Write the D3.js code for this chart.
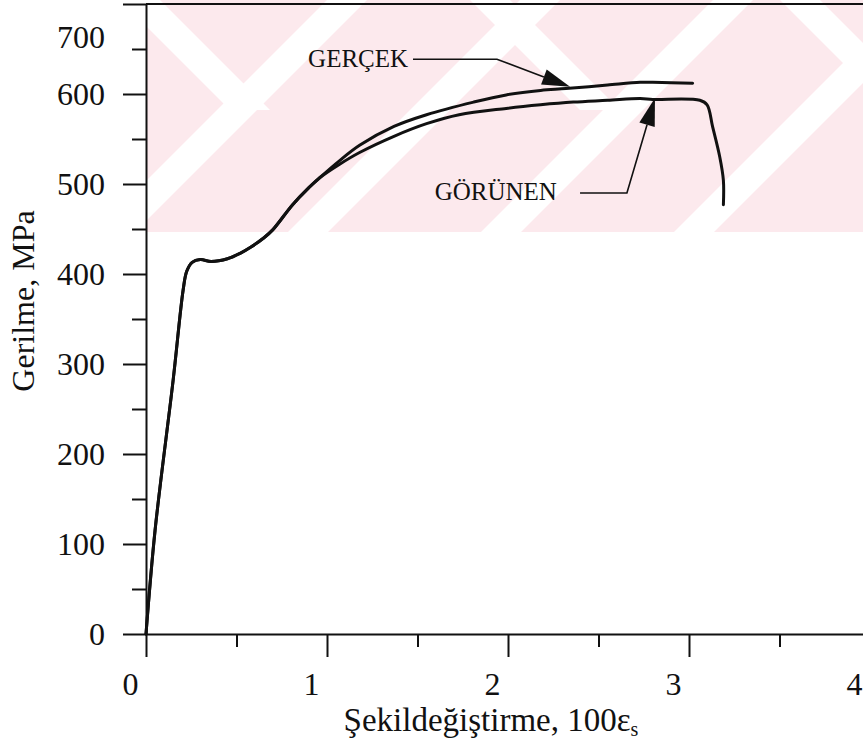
<!DOCTYPE html>
<html>
<head>
<meta charset="utf-8">
<script src="https://cdn.jsdelivr.net/npm/d3@7"></script>
<style>
  body { margin: 0; background: #fff; }
  svg { display: block; }
  text { font-family: "Liberation Serif", "Times New Roman", serif; fill: #111; }
</style>
</head>
<body>
<svg id="chart" width="863" height="748"></svg>
<script>
// Axis ticks
const strainMajorTicks = [0, 1, 2, 3, 4];
const strainMinorTicks = [0.5, 1.5, 2.5, 3.5];
const stressMajorTicks = [0, 100, 200, 300, 400, 500, 600, 700];
const stressMinorTicks = [50, 150, 250, 350, 450, 550, 650];

// Common part of both curves: elastic line, yield plateau, early hardening
const sharedStrain = [0, 0.05, 0.15, 0.205, 0.225, 0.255, 0.30, 0.36, 0.45, 0.52, 0.58, 0.65, 0.70, 0.81, 0.90, 0.96];
const sharedStress = [0, 115, 282, 382, 403, 413, 416, 414, 417, 423, 430, 440, 449, 477, 496, 507];

// True stress-strain (GERÇEK) after the curves separate
const gercekStrain = [1.07, 1.18, 1.37, 1.55, 1.81, 1.99, 2.18, 2.32, 2.55, 2.73, 2.80, 3.02];
const gercekStress = [526, 543, 564, 577, 591, 599, 604, 606, 610, 613, 613, 612];

// Engineering stress-strain (GÖRÜNEN) after the curves separate, with necking drop
const gorunenStrain = [1.07, 1.18, 1.37, 1.55, 1.73, 1.99, 2.18, 2.36, 2.55, 2.73, 2.80, 3.06, 3.10, 3.13, 3.17, 3.19, 3.19];
const gorunenStress = [522, 535, 553, 567, 577, 584, 588, 591, 593, 595, 594, 593, 588, 564, 530, 504, 477];

// Callouts: label anchor and leader polyline, in (strain, stress) units
const calloutLabels = ["GERÇEK", "GÖRÜNEN"];
const calloutTextAt = [[1.448, 630], [2.27, 482]];
const calloutLeaders = [
  [[1.475, 638.6], [1.939, 638.6], [2.343, 608]],
  [[2.398, 490], [2.657, 490], [2.812, 595.6]]
];

const svg = d3.select("#chart");
const x = d3.scaleLinear().domain([0, 4]).range([146, 870]);
const y = d3.scaleLinear().domain([0, 700]).range([634, 4]);

// Background watermark band: pale pink with diagonal white bands
const wm = svg.append("g");
wm.append("clipPath").attr("id", "wmclip")
  .append("rect").attr("x", 146).attr("y", 0).attr("width", 717).attr("height", 232);
const wmg = wm.append("g").attr("clip-path", "url(#wmclip)");
wmg.append("rect").attr("x", 146).attr("y", 0).attr("width", 717).attr("height", 232).attr("fill", "#fce9ed");
// "/" bands: lower edge on x + y = c
[367, 560, 753, 946, 1139].forEach(c => {
  wmg.append("polygon")
    .attr("points", [[c - 40, 0], [c, 0], [c - 232, 232], [c - 272, 232]].join(" "))
    .attr("fill", "#fff");
});
// "\" bands across the top, completing the crossed shapes
[120, 470, 780].forEach(c => {
  wmg.append("polygon")
    .attr("points", [[c, 0], [c + 40, 0], [c + 150, 110], [c + 110, 110]].join(" "))
    .attr("fill", "#fff");
});

// Axes
const axisStyle = g => {
  g.selectAll("path, line").attr("stroke", "#111").attr("stroke-width", 2);
  g.selectAll("text").attr("font-size", 32).attr("font-family", "Liberation Serif, serif").attr("fill", "#111");
};

const xAxis = svg.append("g").attr("transform", `translate(0,${y(0)})`)
  .call(d3.axisBottom(x).tickValues(strainMajorTicks).tickFormat(d3.format("d"))
    .tickSize(23).tickSizeOuter(0).tickPadding(15))
  .call(axisStyle);
xAxis.selectAll("text").attr("dx", -16);
svg.append("g").attr("transform", `translate(0,${y(0)})`)
  .call(d3.axisBottom(x).tickValues(strainMinorTicks).tickFormat("").tickSize(13).tickSizeOuter(0))
  .call(axisStyle).select(".domain").remove();

const yAxis = svg.append("g").attr("transform", `translate(${x(0)},0)`)
  .call(d3.axisLeft(y).tickValues(stressMajorTicks).tickFormat(d3.format("d"))
    .tickSize(23).tickSizeOuter(0).tickPadding(18))
  .call(axisStyle);
// the topmost label sits just below its tick so it stays on the page
yAxis.selectAll(".tick").filter(d => d === 700).select("text").attr("y", 33);
svg.append("g").attr("transform", `translate(${x(0)},0)`)
  .call(d3.axisLeft(y).tickValues(stressMinorTicks).tickFormat("").tickSize(14).tickSizeOuter(0))
  .call(axisStyle).select(".domain").remove();

// Top frame line
svg.append("line").attr("x1", x(0)).attr("x2", x(4)).attr("y1", y(700)).attr("y2", y(700))
  .attr("stroke", "#111").attr("stroke-width", 2);

// Axis titles
svg.append("text").attr("x", 491).attr("y", 731).attr("text-anchor", "middle").attr("font-size", 33)
  .html('Şekildeğiştirme, 100ε<tspan font-size="20" dy="5">s</tspan>');
svg.append("text").attr("transform", `translate(34,${y(370)}) rotate(-90)`)
  .attr("text-anchor", "middle").attr("font-size", 32).text("Gerilme, MPa");

// Curves
const line = d3.line().x(d => x(d[0])).y(d => y(d[1])).curve(d3.curveCatmullRom.alpha(0.5));
const shared = sharedStrain.map((s, i) => [s, sharedStress[i]]);
const gercek = shared.concat(gercekStrain.map((s, i) => [s, gercekStress[i]]));
const gorunen = shared.concat(gorunenStrain.map((s, i) => [s, gorunenStress[i]]));
[gercek, gorunen].forEach(pts => {
  svg.append("path").attr("d", line(pts)).attr("fill", "none").attr("stroke", "#111")
    .attr("stroke-width", 3).attr("stroke-linejoin", "round").attr("stroke-linecap", "round");
});

// Callouts with filled arrowheads
calloutLabels.forEach((label, i) => {
  const pts = calloutLeaders[i].map(p => [x(p[0]), y(p[1])]);
  const tip = pts[pts.length - 1], prev = pts[pts.length - 2];
  const dx = tip[0] - prev[0], dy = tip[1] - prev[1], len = Math.hypot(dx, dy);
  const ux = dx / len, uy = dy / len, L = 28, W = 8;
  const base = [tip[0] - ux * L, tip[1] - uy * L];
  const linePts = pts.slice(0, -1).concat([base]);
  svg.append("path").attr("d", d3.line()(linePts)).attr("fill", "none")
    .attr("stroke", "#111").attr("stroke-width", 1.6);
  svg.append("path").attr("d", d3.line()([
    tip, [base[0] - uy * W, base[1] + ux * W], [base[0] + uy * W, base[1] - ux * W]
  ]) + "Z").attr("fill", "#111");
  svg.append("text").attr("x", x(calloutTextAt[i][0])).attr("y", y(calloutTextAt[i][1]))
    .attr("text-anchor", "end").attr("font-size", 25).text(label);
});
</script>
</body>
</html>
